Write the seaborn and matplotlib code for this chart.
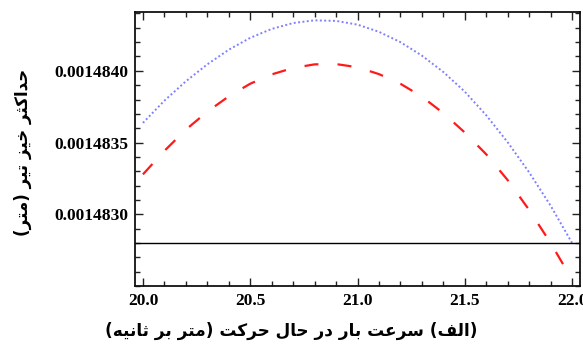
import numpy as np
import pandas as pd
import matplotlib
matplotlib.use("Agg")
import matplotlib.pyplot as plt
from matplotlib.ticker import MultipleLocator, FormatStrFormatter
import seaborn as sns

# ---------------- data ----------------
speed = [20.0, 20.1, 20.2, 20.3, 20.4, 20.5, 20.6, 20.7, 20.8, 20.9, 21.0,
         21.1, 21.2, 21.3, 21.4, 21.5, 21.6, 21.7, 21.8, 21.9, 22.0]
deflection_dotted = [0.0014836370, 0.0014837920, 0.0014839270, 0.0014840450, 0.0014841470,
                     0.0014842300, 0.0014842920, 0.0014843330, 0.0014843520, 0.0014843480,
                     0.0014843220, 0.0014842720, 0.0014842000, 0.0014841060, 0.0014839920,
                     0.0014838550, 0.0014836900, 0.0014835020, 0.0014832920, 0.0014830600,
                     0.0014828000]
deflection_dashed = [0.0014832780, 0.0014834420, 0.0014835900, 0.0014837150, 0.0014838220,
                     0.0014839100, 0.0014839750, 0.0014840200, 0.0014840450, 0.0014840470,
                     0.0014840250, 0.0014839770, 0.0014839100, 0.0014838200, 0.0014837050,
                     0.0014835700, 0.0014834180, 0.0014832380, 0.0014830300, 0.0014828000,
                     0.0014825450]
static_level = 0.0014828

x_ticks = [20.0, 20.5, 21.0, 21.5, 22.0]
y_ticks = [0.0014830, 0.0014835, 0.0014840]

x_label = "(الف) سرعت بار در حال حرکت (متر بر ثانیه)"
y_label = "حداکثر خیز تیر (متر)"

# ---------------- simple Persian shaping (no external libs) ----------------
FORMS = {  # isolated, final, initial, medial
    'ا': ('\uFE8D', '\uFE8E', None, None),
    'د': ('\uFEA9', '\uFEAA', None, None),
    'ر': ('\uFEAD', '\uFEAE', None, None),
    'ز': ('\uFEAF', '\uFEB0', None, None),
    'ب': ('\uFE8F', '\uFE90', '\uFE91', '\uFE92'),
    'ت': ('\uFE95', '\uFE96', '\uFE97', '\uFE98'),
    'ث': ('\uFE99', '\uFE9A', '\uFE9B', '\uFE9C'),
    'ح': ('\uFEA1', '\uFEA2', '\uFEA3', '\uFEA4'),
    'خ': ('\uFEA5', '\uFEA6', '\uFEA7', '\uFEA8'),
    'س': ('\uFEB1', '\uFEB2', '\uFEB3', '\uFEB4'),
    'ع': ('\uFEC9', '\uFECA', '\uFECB', '\uFECC'),
    'ف': ('\uFED1', '\uFED2', '\uFED3', '\uFED4'),
    'ک': ('\uFB8E', '\uFB8F', '\uFB90', '\uFB91'),
    'ل': ('\uFEDD', '\uFEDE', '\uFEDF', '\uFEE0'),
    'م': ('\uFEE1', '\uFEE2', '\uFEE3', '\uFEE4'),
    'ن': ('\uFEE5', '\uFEE6', '\uFEE7', '\uFEE8'),
    'ه': ('\uFEE9', '\uFEEA', '\uFEEB', '\uFEEC'),
    'ی': ('\uFBFC', '\uFBFD', '\uFBFE', '\uFBFF'),
}


def dual(c):
    return c in FORMS and FORMS[c][2] is not None


def shape_rtl(text):
    out = []
    n = len(text)
    for i, c in enumerate(text):
        if c not in FORMS:
            out.append(c)
            continue
        prev_c = text[i - 1] if i > 0 else ''
        next_c = text[i + 1] if i < n - 1 else ''
        jp = dual(prev_c)
        jn = dual(c) and next_c in FORMS
        iso, fin, ini, med = FORMS[c]
        if jp and jn:
            out.append(med)
        elif jp:
            out.append(fin)
        elif jn:
            out.append(ini)
        else:
            out.append(iso)
    vis = ''.join(reversed(out))
    return vis.translate(str.maketrans('()', ')('))


# ---------------- plot ----------------
sns.set_style("ticks")
plt.rcParams['font.family'] = ['Liberation Serif', 'DejaVu Serif']
plt.rcParams['font.weight'] = 'bold'
plt.rcParams['text.color'] = 'black'
plt.rcParams['xtick.labelcolor'] = 'black'
plt.rcParams['ytick.labelcolor'] = 'black'

fig = plt.figure(figsize=(5.83, 3.47), dpi=100)
ax = fig.add_axes([135 / 583, 1 - 286 / 347, 445 / 583, 274 / 347])

df = pd.DataFrame({"speed": speed,
                   "dotted": deflection_dotted,
                   "dashed": deflection_dashed})

sns.lineplot(data=df, x="speed", y="dotted", ax=ax, color="#8080ff",
             linewidth=1.4)
ax.lines[-1].set_dashes((1.0, 1.25))
ax.lines[-1].set_dash_capstyle('butt')
sns.lineplot(data=df, x="speed", y="dashed", ax=ax, color="#ff1a1a",
             linewidth=1.6)
ax.lines[-1].set_dashes((6.3, 8.6))
ax.axhline(static_level, color="black", linewidth=1.0)

ax.set_xlim(19.963, 22.037)
ax.set_ylim(0.0014825, 0.00148441)
ax.set_xticks(x_ticks)
ax.set_yticks(y_ticks)
ax.xaxis.set_minor_locator(MultipleLocator(0.1))
ax.yaxis.set_minor_locator(MultipleLocator(1e-7))
ax.xaxis.set_major_formatter(FormatStrFormatter('%.1f'))
ax.yaxis.set_major_formatter(FormatStrFormatter('%.7f'))
ax.tick_params(which='both', direction='in', top=True, right=True,
               width=1.0, color='#222222', labelcolor='black')
ax.tick_params(which='major', length=6, labelsize=12.5, pad=5)
ax.tick_params(which='minor', length=3.5)
for lab in ax.get_xticklabels() + ax.get_yticklabels():
    lab.set_fontweight('bold')
for sp in ax.spines.values():
    sp.set_linewidth(1.3)
    sp.set_color('#111111')

ax.set_xlabel("")
ax.set_ylabel("")
fig.text(0.5, 0.046, shape_rtl(x_label), ha='center', va='center',
         fontsize=12.2, fontweight='bold', family=['DejaVu Sans'], color='black')
fig.text(0.04, 1 - 152 / 347, shape_rtl(y_label), ha='center', va='center',
         rotation=90, fontsize=12, fontweight='bold', family=['DejaVu Sans'],
         color='black')

fig.savefig("out.png", dpi=100)
